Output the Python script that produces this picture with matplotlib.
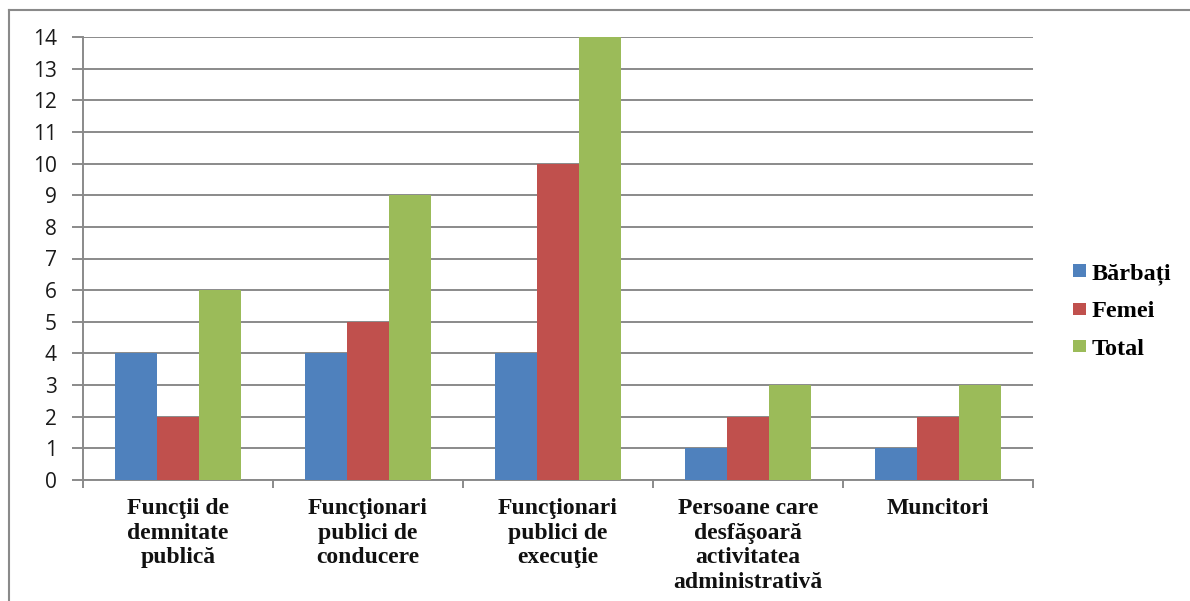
import matplotlib
matplotlib.use("Agg")
import matplotlib.pyplot as plt
from matplotlib.lines import Line2D
import numpy as np

categories = ["Funcţii de\ndemnitate\npublică",
              "Funcţionari\npublici de\nconducere",
              "Funcţionari\npublici de\nexecuţie",
              "Persoane care\ndesfăşoară\nactivitatea\nadministrativă",
              "Muncitori"]
barbati = [4, 4, 4, 1, 1]
femei = [2, 5, 10, 2, 2]
total = [6, 9, 14, 3, 3]
series_names = ["Bărbați", "Femei", "Total"]
colors = ["#4F81BD", "#C0504D", "#9BBB59"]
yticks = list(range(0, 15))

W, H = 1190, 601
fig = plt.figure(figsize=(W / 100, H / 100), dpi=100)
ax = fig.add_axes([83 / W, 1 - 480 / H, (1033 - 83) / W, (480 - 37) / H])

x = np.arange(len(categories))
bw = 42 / 190
grid_c = "#8A8A8A"
for i, (vals, name, c) in enumerate(zip([barbati, femei, total], series_names, colors)):
    ax.bar(x + (i - 1) * bw, vals, width=bw, color=c, label=name, zorder=3)

ax.set_xlim(-0.5, len(categories) - 0.5)
ax.set_ylim(0, 14)
ax.set_yticks(yticks)
ax.set_yticklabels([str(v) for v in yticks], fontsize=15, family="Open Sans", color="#1a1a1a")
ax.yaxis.grid(True, color=grid_c, linewidth=1.4, zorder=0)
ax.set_axisbelow(True)

ax.set_xticks(np.arange(-0.5, len(categories)), minor=False)
ax.set_xticklabels([])
ax.set_xticks(x, minor=True)
ax.set_xticklabels(categories, minor=True, fontsize=17, family="Liberation Serif",
                   fontweight="bold", linespacing=1.23, color="#111111")
ax.tick_params(axis="x", which="major", length=6, width=1.4, color=grid_c, direction="out")
ax.tick_params(axis="x", which="minor", length=0, pad=13)
ax.tick_params(axis="y", length=8, width=1.4, color=grid_c, pad=11)

for s in ["top", "right"]:
    ax.spines[s].set_visible(False)
for s in ["left", "bottom"]:
    ax.spines[s].set_color(grid_c)
    ax.spines[s].set_linewidth(1.4)

leg = fig.legend(loc="upper left", bbox_to_anchor=(1066 / W, 1 - 256 / H),
                 frameon=False, prop={"family": "Liberation Serif", "weight": "bold", "size": 17.5},
                 handlelength=0.52, handleheight=0.4, handletextpad=0.22, labelspacing=0.68,
                 borderaxespad=0, borderpad=0.3)

# outer chart border (top and left visible)
fig.add_artist(Line2D([9 / W, 9 / W], [0, 1 - 10 / H], color="#8A8A8A", lw=1.5,
                      transform=fig.transFigure))
fig.add_artist(Line2D([9 / W, 1], [1 - 10 / H, 1 - 10 / H], color="#8A8A8A", lw=1.5,
                      transform=fig.transFigure))

fig.savefig("out.png", dpi=100)
